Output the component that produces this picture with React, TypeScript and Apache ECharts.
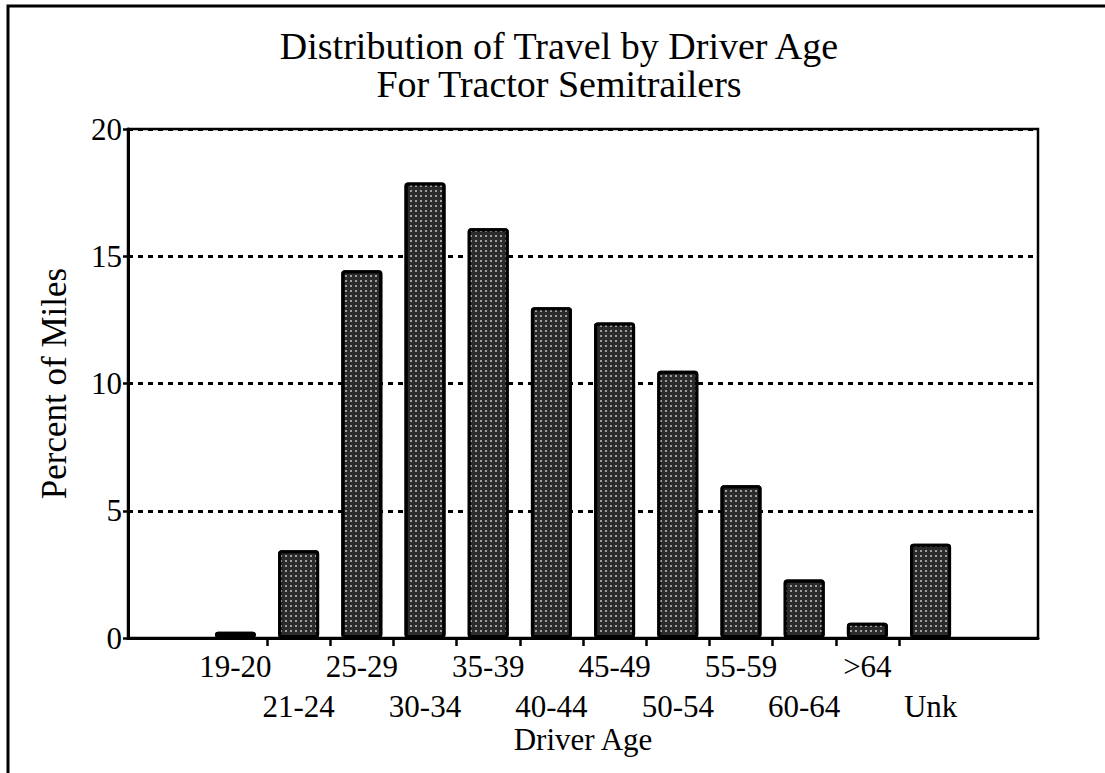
import React, { useEffect, useRef } from "react";
import * as echarts from "echarts";

const categories = ["19-20", "21-24", "25-29", "30-34", "35-39", "40-44", "45-49", "50-54", "55-59", "60-64", ">64", "Unk"];
const percentMiles = [0.25, 3.45, 14.45, 17.9, 16.1, 13.0, 12.4, 10.5, 6.0, 2.3, 0.6, 3.7];
const yTickValues = [0, 5, 10, 15, 20];
const titleLines = ["Distribution of Travel by Driver Age", "For Tractor Semitrailers"];
const xAxisName = "Driver Age";
const yAxisName = "Percent of Miles";

const FONT = '"Liberation Serif", "Times New Roman", serif';

export default function App() {
  const ref = useRef<HTMLDivElement>(null);

  useEffect(() => {
    document.body.style.margin = "0";
    if (!ref.current) return;
    const chart = echarts.init(ref.current, null, { renderer: "svg" });

    const labelPositions = categories.map((_, i) => i + 0.5);
    const upperRow = labelPositions.filter((_, i) => i % 2 === 0);
    const lowerRow = labelPositions.filter((_, i) => i % 2 === 1);
    const tickPositions = categories.slice(1).map((_, i) => i + 1);
    const barData = percentMiles.map((v, i) => [labelPositions[i], v]);
    const nameOf = (v: number) => categories[Math.round(v - 0.5)] ?? "";

    const labelStyle = {
      fontFamily: FONT,
      fontSize: 31,
      color: "#000",
      verticalAlign: "top",
      showMinLabel: true,
      showMaxLabel: true,
      hideOverlap: false,
      formatter: nameOf,
    };

    chart.setOption({
      animation: false,
      backgroundColor: "#ffffff",
      title: titleLines.map((t, i) => ({
        text: t,
        left: 554,
        top: 22 + i * 38,
        textAlign: "center",
        textStyle: {
          fontFamily: FONT,
          fontSize: 38,
          fontWeight: "normal",
          color: "#000",
          lineHeight: 38,
        },
      })),
      graphic: [
        {
          type: "rect",
          shape: { x: 8, y: 6, width: 1200, height: 1000 },
          style: { fill: "none", stroke: "#000", lineWidth: 3 },
          silent: true,
        },
      ],
      grid: {
        left: 128,
        right: 67,
        top: 129,
        bottom: 135,
        show: true,
        borderColor: "#000",
        borderWidth: 2.5,
        containLabel: false,
      },
      xAxis: [
        {
          type: "value",
          min: -1.2,
          max: 13.2,
          position: "bottom",
          name: xAxisName,
          nameLocation: "middle",
          nameGap: 86,
          nameTextStyle: { fontFamily: FONT, fontSize: 31, color: "#000" },
          splitLine: { show: false },
          axisLine: { show: true, onZero: false, lineStyle: { color: "#000", width: 3 } },
          axisTick: {
            show: true,
            customValues: tickPositions,
            length: 8,
            lineStyle: { color: "#000", width: 2.5 },
          },
          axisLabel: { ...labelStyle, customValues: upperRow, margin: 13 },
        },
        {
          type: "value",
          min: -1.2,
          max: 13.2,
          position: "bottom",
          offset: 0,
          splitLine: { show: false },
          axisLine: { show: false, onZero: false },
          axisTick: { show: false },
          axisLabel: { ...labelStyle, customValues: lowerRow, margin: 53 },
        },
      ],
      yAxis: {
        type: "value",
        min: 0,
        max: 20,
        interval: 5,
        name: yAxisName,
        nameLocation: "middle",
        nameGap: 56,
        nameRotate: 90,
        nameTextStyle: { fontFamily: FONT, fontSize: 35, color: "#000" },
        axisLine: { show: true, onZero: false, lineStyle: { color: "#000", width: 3 } },
        axisTick: { show: true, length: 5, lineStyle: { color: "#000", width: 2.5 } },
        axisLabel: {
          fontFamily: FONT,
          fontSize: 31,
          color: "#000",
          margin: 6,
          formatter: (v: number) => (yTickValues.includes(v) ? String(v) : ""),
        },
        splitLine: {
          show: true,
          lineStyle: { color: "#000", width: 3, type: [5, 5] },
        },
      },
      series: [
        {
          type: "bar",
          xAxisIndex: 0,
          data: barData,
          barWidth: 41,
          itemStyle: {
            color: "#2b2b2b",
            borderColor: "#000",
            borderWidth: 3,
            borderRadius: 2,
            decal: {
              symbol: "rect",
              symbolSize: 1,
              color: "rgba(255,255,255,0.55)",
              dashArrayX: [1.5, 2.5],
              dashArrayY: [1.5, 2.5],
            },
          },
        },
      ],
    });

    return () => chart.dispose();
  }, []);

  return <div ref={ref} style={{ width: 1105, height: 773 }} />;
}
